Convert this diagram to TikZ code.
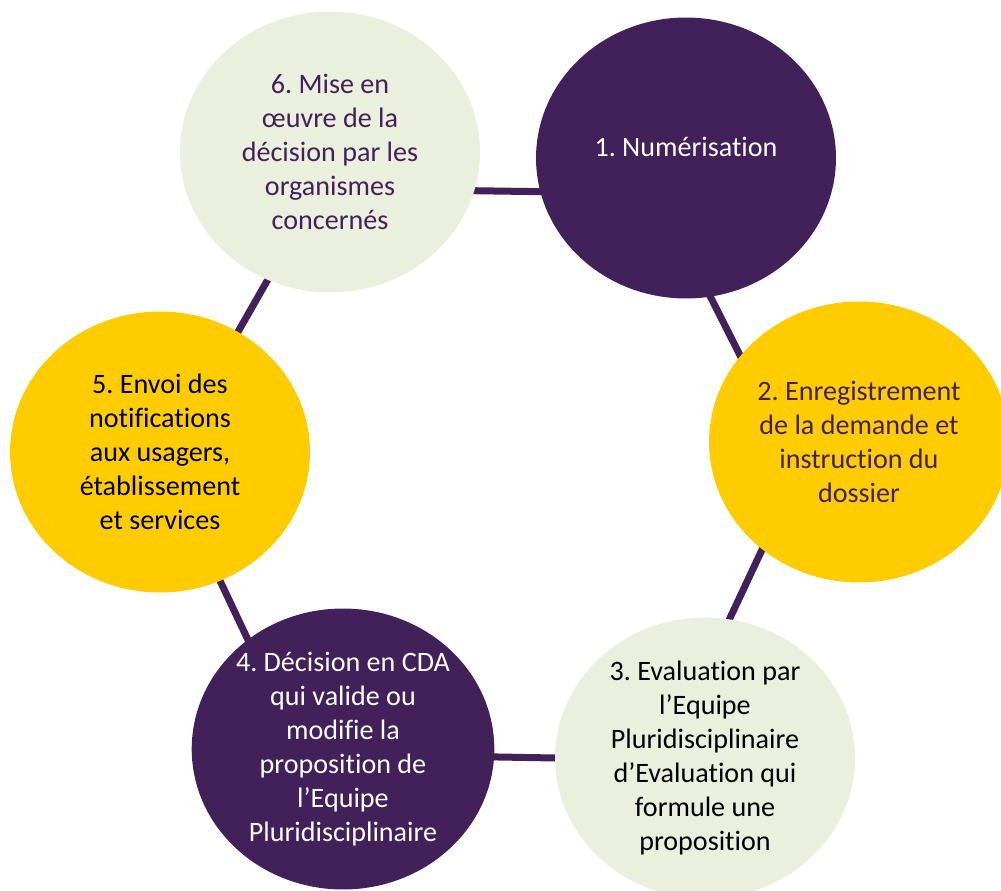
\documentclass[tikz,border=0pt]{standalone}
\usepackage{fontspec}
\setmainfont[Ligatures=NoCommon]{Carlito}
\usetikzlibrary{shapes.geometric,backgrounds}

\definecolor{prune}{HTML}{42215A}
\definecolor{jaune}{HTML}{FFCC00}
\definecolor{vertpale}{HTML}{EAEFDE}

\tikzset{
	etape/.style={ellipse, inner sep=0pt, minimum width=6cm, minimum height=5.62cm, align=center, font=\fontsize{16}{19.3}\selectfont\frenchspacing},
	lien/.style={prune, line width=0.14cm, shorten >=-8pt, shorten <=-8pt}
}

\begin{document}
\begin{tikzpicture}[x=0.02cm, y=-0.02cm]
\useasboundingbox (0,0) rectangle (1001,891);

\node (n1) at (686,158) [etape, fill=prune, text=white] {\raisebox{0.45cm}{1. Numérisation}};
\node (n2) at (859,442) [etape, fill=jaune, text=prune] {2. Enregistrement\\de la demande et\\instruction du\\dossier};
\node (n3) at (705,758) [etape, fill=vertpale, text=black] {3. Evaluation par\\l’Equipe\\Pluridisciplinaire\\d’Evaluation qui\\formule une\\proposition};
\node (n4) at (343,749) [etape, fill=prune, text=white] {4. Décision en CDA\\qui valide ou\\modifie la\\proposition de\\l’Equipe\\Pluridisciplinaire};
\node (n5) at (160,452) [etape, fill=jaune, text=black] {5. Envoi des\\notifications\\aux usagers,\\établissement\\et services};
\node (n6) at (330,152) [etape, fill=vertpale, text=prune] {6. Mise en\\œuvre de la\\décision par les\\organismes\\concernés};

\begin{scope}[on background layer]
\draw [lien] (n6.-15.5) -- (n1.193);
\draw [lien] (n1.-80) -- (n2.144.8);
\draw [lien] (n2.-132.2) -- (n3.80.7);
\draw [lien] (n3.180) -- (n4.-3);
\draw [lien] (n4.131.1) -- (n5.-65.2);
\draw [lien] (n5.57.3) -- (n6.-116.2);
\end{scope}

\end{tikzpicture}
\end{document}
